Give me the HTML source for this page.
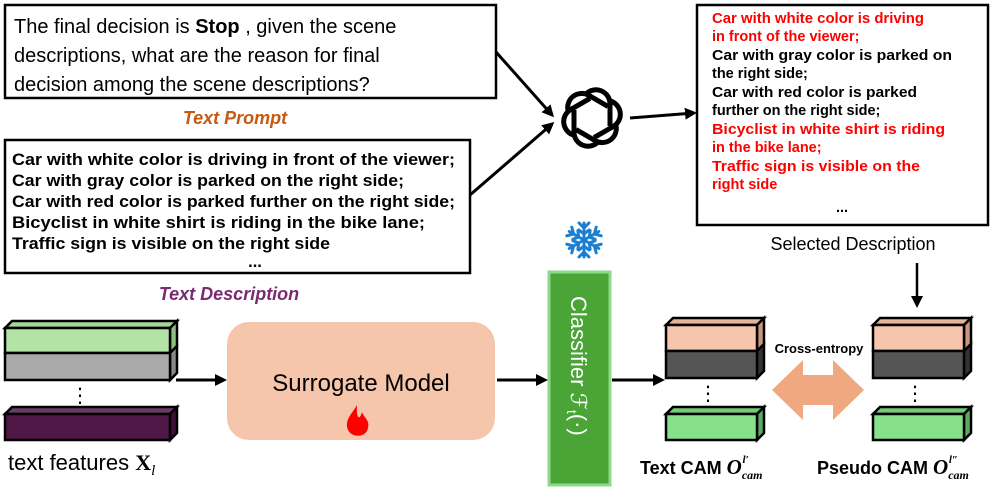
<!DOCTYPE html>
<html><head><meta charset="utf-8"><style>body{margin:0;background:#fff}svg{display:block}text{font-family:"Liberation Sans","DejaVu Sans",sans-serif}</style></head><body>
<svg width="997" height="490" viewBox="0 0 997 490" xmlns="http://www.w3.org/2000/svg">
<defs><marker id="a" markerWidth="12" markerHeight="12" refX="9" refY="6" orient="auto" markerUnits="userSpaceOnUse"><path d="M0,0 L12,6 L0,12z" fill="#000"/></marker></defs>
<rect x="5" y="5" width="491" height="93" fill="#fff" stroke="#000" stroke-width="2.5"/>
<text font-size="20" x="14" y="33">The final decision is <tspan font-weight="bold">Stop</tspan> , given the scene</text>
<text font-size="20" x="14" y="62">descriptions, what are the reason for final</text>
<text font-size="20" x="14" y="91">decision among the scene descriptions?</text>
<text x="235" y="124" font-size="18" font-style="italic" font-weight="bold" fill="#c55a11" text-anchor="middle">Text Prompt</text>
<rect x="5" y="140" width="465" height="133" fill="#fff" stroke="#000" stroke-width="2.5"/>
<g font-size="16.5" font-weight="bold">
<text x="12" y="165" textLength="443" lengthAdjust="spacingAndGlyphs">Car with white color is driving in front of the viewer;</text>
<text x="12" y="186" textLength="392" lengthAdjust="spacingAndGlyphs">Car with gray color is parked on the right side;</text>
<text x="12" y="207" textLength="443" lengthAdjust="spacingAndGlyphs">Car with red color is parked further on the right side;</text>
<text x="12" y="228" textLength="413" lengthAdjust="spacingAndGlyphs">Bicyclist in white shirt is riding in the bike lane;</text>
<text x="12" y="249" textLength="318" lengthAdjust="spacingAndGlyphs">Traffic sign is visible on the right side</text>
<text x="255" y="267" text-anchor="middle">...</text></g>
<text x="229" y="300" font-size="18" font-style="italic" font-weight="bold" fill="#7a2a70" text-anchor="middle">Text Description</text>
<line x1="496" y1="52" x2="552" y2="115" stroke="#000" stroke-width="3" marker-end="url(#a)"/>
<line x1="470" y1="195" x2="552" y2="124" stroke="#000" stroke-width="3" marker-end="url(#a)"/>
<g transform="translate(592,118)" fill="none" stroke="#000" stroke-width="5">
<g id="p"><path d="M-6,-24 A14,14 0 0 1 18,-14 L18,8"/></g>
<use href="#p" transform="rotate(60)"/><use href="#p" transform="rotate(120)"/><use href="#p" transform="rotate(180)"/><use href="#p" transform="rotate(240)"/><use href="#p" transform="rotate(300)"/></g>
<line x1="630" y1="118" x2="694" y2="113" stroke="#000" stroke-width="3" marker-end="url(#a)"/>
<rect x="697" y="5" width="291" height="220" fill="#fff" stroke="#000" stroke-width="2.5"/>
<g font-size="14.5" font-weight="bold">
<text x="712" y="23" fill="#f00" textLength="212" lengthAdjust="spacingAndGlyphs">Car with white color is driving</text>
<text x="712" y="41" fill="#f00">in front of the viewer;</text>
<text x="712" y="60" textLength="240" lengthAdjust="spacingAndGlyphs">Car with gray color is parked on</text>
<text x="712" y="78">the right side;</text>
<text x="712" y="97" textLength="205" lengthAdjust="spacingAndGlyphs">Car with red color is parked</text>
<text x="712" y="115">further on the right side;</text>
<text x="712" y="134" fill="#f00" textLength="233" lengthAdjust="spacingAndGlyphs">Bicyclist in white shirt is riding</text>
<text x="712" y="152" fill="#f00">in the bike lane;</text>
<text x="712" y="171" fill="#f00" textLength="208" lengthAdjust="spacingAndGlyphs">Traffic sign is visible on the</text>
<text x="712" y="189" fill="#f00">right side</text>
<text x="836" y="212">...</text></g>
<text x="853" y="250" font-size="18" text-anchor="middle">Selected Description</text>
<line x1="917" y1="263" x2="917" y2="305" stroke="#000" stroke-width="2.5" marker-end="url(#a)"/>
<g transform="translate(584,240)" stroke="#1b7fd1" stroke-width="3" fill="none" stroke-linecap="round">
<g id="s"><path d="M0,0 V-17 M-5,-17 L0,-12 L5,-17 M-5,-10 L0,-6 L5,-10"/></g>
<use href="#s" transform="rotate(60)"/><use href="#s" transform="rotate(120)"/><use href="#s" transform="rotate(180)"/><use href="#s" transform="rotate(240)"/><use href="#s" transform="rotate(300)"/></g>
<rect x="549" y="272" width="61" height="213" fill="#4aa536" stroke="#8ed98a" stroke-width="3"/>
<text transform="translate(571,296) rotate(90)" font-size="22" fill="#fff">Classifier <tspan font-style="italic">ℱ</tspan><tspan font-size="14" dy="4">t</tspan><tspan dy="-4">(·)</tspan></text>
<rect x="227" y="322" width="268" height="118" rx="22" fill="#f5c6ab"/>
<text x="361" y="391" font-size="24" text-anchor="middle">Surrogate Model</text>
<path d="M357,405 C352,414 344,420 348,430 C352,438 366,438 368,428 C370,420 364,418 362,412 C360,420 356,420 357,405z" fill="#f00"/>
<line x1="176" y1="380" x2="224" y2="380" stroke="#000" stroke-width="3" marker-end="url(#a)"/>
<line x1="497" y1="380" x2="545" y2="380" stroke="#000" stroke-width="3" marker-end="url(#a)"/>
<line x1="612" y1="380" x2="662" y2="380" stroke="#000" stroke-width="3" marker-end="url(#a)"/>
<g stroke="#000" stroke-width="2.5">
<path d="M5,328 l7,-7 h165 l-7,7z" fill="#a3d898"/><path d="M170,328 l7,-7 v25 l-7,7z" fill="#8cbf80"/><rect x="5" y="328" width="165" height="25" fill="#b3e3a5"/>
<path d="M170,353 l7,-7 v27 l-7,7z" fill="#888"/><rect x="5" y="353" width="165" height="27" fill="#aaa"/>
<path d="M5,414 l7,-7 h165 l-7,7z" fill="#6e3a65"/><path d="M170,414 l7,-7 v26 l-7,7z" fill="#3f1138"/><rect x="5" y="414" width="165" height="26" fill="#4e1746"/>
</g>
<text x="80" y="402" font-size="20" text-anchor="middle">⋮</text>
<text x="8" y="470" font-size="22">text features <tspan font-weight="bold" font-family="Liberation Serif">X</tspan><tspan font-style="italic" font-size="15" dy="5" font-family="Liberation Serif">l</tspan></text>
<g id="c" stroke="#000" stroke-width="2.5">
<path d="M666,325 l7,-7 h91 l-7,7z" fill="#e5b49a"/><path d="M757,325 l7,-7 v26 l-7,7z" fill="#c9977d"/><rect x="666" y="325" width="91" height="26" fill="#f5c6ab"/>
<path d="M757,351 l7,-7 v27 l-7,7z" fill="#333"/><rect x="666" y="351" width="91" height="27" fill="#555"/>
<path d="M666,414 l7,-7 h91 l-7,7z" fill="#72cc78"/><path d="M757,414 l7,-7 v26 l-7,7z" fill="#5daa62"/><rect x="666" y="414" width="91" height="26" fill="#86e08c"/>
</g>
<text x="708" y="400" font-size="20" text-anchor="middle">⋮</text>
<use href="#c" transform="translate(207,0)"/>
<text x="915" y="400" font-size="20" text-anchor="middle">⋮</text>
<path d="M772,390 L803,360 V375 H833 V360 L864,390 L833,420 V405 H803 V420z" fill="#f0a880"/>
<text x="819" y="353" font-size="13" font-weight="bold" text-anchor="middle">Cross-entropy</text>
<text x="640" y="474" font-size="18" font-weight="bold">Text CAM <tspan font-style="italic" font-family="Liberation Serif" font-size="21">O</tspan><tspan font-size="12" font-style="italic" font-family="Liberation Serif" dy="5">cam</tspan><tspan font-size="11" font-style="italic" font-family="Liberation Serif" dx="-20" dy="-16">l′</tspan></text>
<text x="817" y="474" font-size="18" font-weight="bold">Pseudo CAM <tspan font-style="italic" font-family="Liberation Serif" font-size="21">O</tspan><tspan font-size="12" font-style="italic" font-family="Liberation Serif" dy="5">cam</tspan><tspan font-size="11" font-style="italic" font-family="Liberation Serif" dx="-20" dy="-16">l″</tspan></text>
</svg>
</body></html>
